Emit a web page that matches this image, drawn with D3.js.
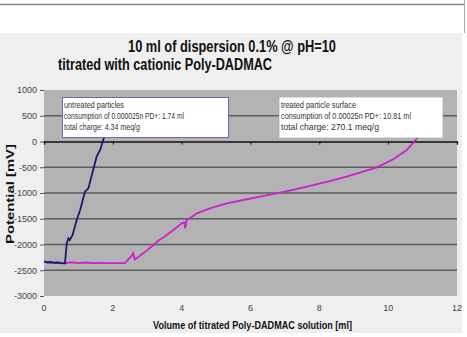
<!DOCTYPE html>
<html><head><meta charset="utf-8">
<script src="https://cdn.jsdelivr.net/npm/d3@7"></script>
<style>body{margin:0;background:#fff;}svg{display:block;font-family:"Liberation Sans",Arial,sans-serif;}</style>
</head><body><svg id="c" width="467" height="337"></svg>
<script>
const xTicks = [0, 2, 4, 6, 8, 10, 12];
const yTicks = [1000, 500, 0, -500, -1000, -1500, -2000, -2500, -3000];
const untreatedX = [0, 0.1, 0.2, 0.3, 0.4, 0.5, 0.61, 0.66, 0.71, 0.75, 0.83, 0.95, 1.05, 1.19, 1.29, 1.39, 1.53, 1.63, 1.72, 1.77];
const untreatedY = [-2330, -2345, -2340, -2355, -2350, -2360, -2365, -1977, -1880, -1913, -1816, -1524, -1330, -975, -909, -650, -295, -165, 29, 110];
const treatedX = [0, 0.2, 0.4, 0.6, 0.8, 1.0, 1.2, 1.4, 1.6, 1.8, 2.0, 2.2, 2.35, 2.45, 2.55, 2.59, 2.64, 2.79, 3.0, 3.18, 3.32, 3.5, 3.76, 4.0, 4.08, 4.10, 4.15, 4.3, 4.44, 4.82, 5.31, 5.79, 6.28, 6.86, 7.3, 7.82, 8.3, 8.79, 9.2, 9.67, 10.15, 10.54, 10.73, 10.92];
const treatedY = [-2340, -2355, -2350, -2365, -2345, -2360, -2350, -2360, -2355, -2360, -2360, -2360, -2360, -2290, -2223, -2170, -2290, -2220, -2110, -2010, -1926, -1850, -1718, -1590, -1570, -1686, -1524, -1460, -1394, -1297, -1200, -1136, -1072, -994, -930, -845, -770, -683, -600, -501, -346, -165, -23, 126];
const titleLines = ["10 ml of dispersion 0.1% @ pH=10", "titrated with cationic Poly-DADMAC"];
const box1Lines = ["untreated particles", "consumption of 0.000025n PD+: 1.74 ml", "total charge: 4.34 meq/g"];
const box2Lines = ["treated particle surface", "consumption of 0.00025n PD+: 10.81 ml", "total charge: 270.1 meq/g"];

const FONT = "Liberation Sans, Arial, sans-serif";
const svg = d3.select("#c");
svg.append("line").attr("x1",0).attr("x2",465).attr("y1",4.5).attr("y2",4.5).attr("stroke","#8a8a8a").attr("stroke-width",1.5);
svg.append("line").attr("x1",464.5).attr("x2",464.5).attr("y1",0).attr("y2",33).attr("stroke","#aaa").attr("stroke-width",1);
svg.append("rect").attr("x",0).attr("y",33).attr("width",462).attr("height",300).attr("fill","#efefef");

const L = 44, R = 457, T = 90, B = 296;
const x = d3.scaleLinear().domain([0, 12]).range([L, R]);
const y = d3.scaleLinear().domain([-3000, 1000]).range([B, T]);

svg.append("rect").attr("x",L).attr("y",T).attr("width",R-L).attr("height",B-T).attr("fill","#b3b3b3");

svg.append("g").selectAll("line").data(yTicks.filter(v => v !== 0 && v !== 1000 && v !== -3000)).join("line")
  .attr("x1",L).attr("x2",R).attr("y1",d=>y(d)).attr("y2",d=>y(d))
  .attr("stroke","#5c5c5c").attr("stroke-width",1.3);

const ya = svg.append("g").attr("transform",`translate(${L},0)`)
  .call(d3.axisLeft(y).tickValues(yTicks).tickSize(4).tickPadding(3).tickFormat(d => String(d)));
ya.select(".domain").remove();
ya.selectAll("line").attr("stroke","#555");
ya.selectAll("text").attr("font-size",9).attr("fill","#444").attr("font-family",FONT);

const xa = svg.append("g").attr("transform",`translate(0,${y(0)})`)
  .call(d3.axisBottom(x).tickValues(xTicks).tickSize(3).tickFormat(""));
xa.select(".domain").attr("stroke","#111").attr("stroke-width",1.3);
xa.selectAll("line").attr("stroke","#111");
svg.append("g").selectAll("text").data(xTicks).join("text")
  .attr("x",d=>x(d)).attr("y",311).attr("text-anchor","middle").attr("font-family",FONT)
  .attr("font-size",9).attr("fill","#444").text(d=>d);

const line = d3.line().x(d=>x(d[0])).y(d=>y(d[1]));
svg.append("path").datum(treatedX.map((v,i)=>[v,treatedY[i]])).attr("d",line)
  .attr("fill","none").attr("stroke","#cc22cc").attr("stroke-width",1.8);
svg.append("path").datum(untreatedX.map((v,i)=>[v,untreatedY[i]])).attr("d",line)
  .attr("fill","none").attr("stroke","#1a1a6a").attr("stroke-width",1.8);

function box(x0, y0, w, h, stroke, lines, widths) {
  svg.append("rect").attr("x",x0+0.5).attr("y",y0+0.5).attr("width",w).attr("height",h)
    .attr("fill","#fff").attr("stroke",stroke).attr("stroke-width",1);
  lines.forEach((t,i)=>{
    svg.append("text").attr("x",x0+2).attr("y",y0+11+i*11).attr("font-size",9).attr("font-family",FONT)
      .attr("fill","#333").attr("textLength",widths[i]).attr("lengthAdjust","spacingAndGlyphs").text(t);
  });
}
box(62, 97, 166, 40, "#6a6aa8", box1Lines, [60, 120, 76]);
box(279, 97, 163, 40, "#dcdcdc", box2Lines, [75, 130, 98]);

svg.append("text").attr("x",128).attr("y",52).attr("font-size",16).attr("font-weight","bold").attr("fill","#111").attr("font-family",FONT)
  .attr("textLength",208).attr("lengthAdjust","spacingAndGlyphs").text(titleLines[0]);
svg.append("text").attr("x",58).attr("y",70).attr("font-size",16).attr("font-weight","bold").attr("fill","#111").attr("font-family",FONT)
  .attr("textLength",214).attr("lengthAdjust","spacingAndGlyphs").text(titleLines[1]);

svg.append("text").attr("transform","translate(14,194) rotate(-90)").attr("text-anchor","middle").attr("font-family",FONT)
  .attr("font-size",11).attr("font-weight","bold").attr("fill","#111")
  .attr("textLength",100).attr("lengthAdjust","spacingAndGlyphs").text("Potential [mV]");
svg.append("text").attr("x",153).attr("y",329).attr("font-size",11).attr("font-weight","bold").attr("fill","#111").attr("font-family",FONT)
  .attr("textLength",199).attr("lengthAdjust","spacingAndGlyphs").text("Volume of titrated Poly-DADMAC solution [ml]");
</script></body></html>
